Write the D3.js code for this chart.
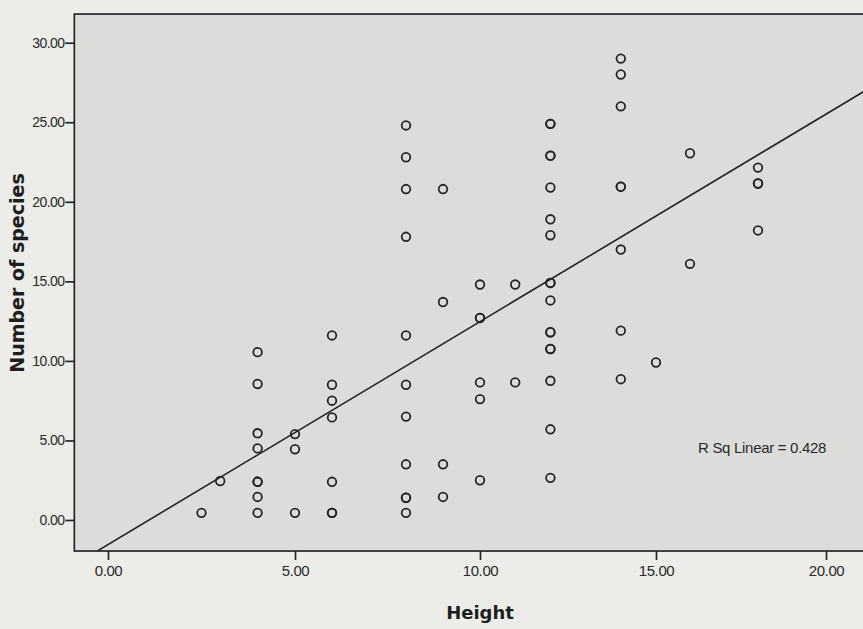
<!DOCTYPE html>
<html>
<head>
<meta charset="utf-8">
<script src="https://cdn.jsdelivr.net/npm/d3@7"></script>
<style>
  html, body { margin: 0; padding: 0; background: #ecece9; }
  svg { display: block; }
</style>
</head>
<body>
<svg id="chart" width="863" height="629"></svg>
<script>
// Tree height groups and the number of species recorded at each height
const heights = [2.5, 3, 4, 5, 6, 8, 9, 10, 11, 12, 14, 15, 16, 18];
const speciesAtHeight = [
  [0.45],
  [2.45],
  [10.55, 8.55, 5.45, 4.5, 2.4, 2.4, 1.45, 0.45],
  [5.4, 4.45, 0.45],
  [11.6, 8.5, 7.5, 6.45, 2.4, 0.45, 0.45],
  [24.8, 22.8, 20.8, 17.8, 11.6, 8.5, 6.5, 3.5, 1.4, 1.4, 0.45],
  [20.8, 13.7, 3.5, 1.45],
  [14.8, 12.7, 12.7, 8.65, 7.6, 2.5],
  [14.8, 8.65],
  [24.9, 24.9, 22.9, 22.9, 20.9, 18.9, 17.9, 14.9, 14.9, 13.8, 11.8, 11.8, 10.75, 10.75, 8.75, 5.7, 2.65],
  [29.0, 28.0, 26.0, 20.95, 20.95, 17.0, 11.9, 8.85],
  [9.9],
  [23.05, 16.1],
  [22.15, 21.15, 21.15, 18.2]
];

// Axis ticks
const xTicks = [0, 5, 10, 15, 20];
const yTicks = [0, 5, 10, 15, 20, 25, 30];

// Linear fit line
const fitIntercept = -1.6;
const fitSlope = 1.35;
const rSquared = 0.428;

// Visible data extent of the plot frame
const xMin = -0.9, xMax = 21.6;
const yMin = -1.95, yMax = 31.8;

const points = heights.flatMap((h, i) => speciesAtHeight[i].map(s => ({ h, s })));

const svg = d3.select("#chart");

const x = d3.scaleLinear()
  .domain(xTicks)
  .range([108, 295, 480, 656, 826]);

const y = d3.scaleLinear()
  .domain([0, 30])
  .range([520, 42.7]);

const frameLeft = x(xMin), frameRight = x(xMax);
const frameTop = y(yMax), frameBottom = y(yMin);

// plot background
svg.append("rect")
  .attr("x", frameLeft).attr("y", frameTop)
  .attr("width", frameRight - frameLeft).attr("height", frameBottom - frameTop)
  .attr("fill", "#dcdddb");

svg.append("clipPath").attr("id", "plotClip")
  .append("rect")
  .attr("x", frameLeft).attr("y", frameTop)
  .attr("width", frameRight - frameLeft).attr("height", frameBottom - frameTop);

// fit line
svg.append("line")
  .attr("clip-path", "url(#plotClip)")
  .attr("x1", x(xMin)).attr("y1", y(fitIntercept + fitSlope * xMin))
  .attr("x2", x(xMax)).attr("y2", y(fitIntercept + fitSlope * xMax))
  .attr("stroke", "#222")
  .attr("stroke-width", 1.6);

// points
svg.append("g")
  .selectAll("circle")
  .data(points)
  .join("circle")
  .attr("cx", d => x(d.h))
  .attr("cy", d => y(d.s))
  .attr("r", 4.3)
  .attr("fill", "none")
  .attr("stroke", "#262626")
  .attr("stroke-width", 1.8);

// frame
svg.append("rect")
  .attr("x", frameLeft).attr("y", frameTop)
  .attr("width", frameRight - frameLeft).attr("height", frameBottom - frameTop)
  .attr("fill", "none")
  .attr("stroke", "#262626")
  .attr("stroke-width", 1.7);

// axes
const fmt = d3.format(".2f");

const yAxis = svg.append("g")
  .attr("transform", `translate(${frameLeft},0)`)
  .call(d3.axisLeft(y).tickValues(yTicks).tickFormat(fmt).tickSize(9).tickPadding(1));
yAxis.select(".domain").remove();
yAxis.selectAll("line").attr("stroke", "#262626").attr("stroke-width", 1.7);
yAxis.selectAll("text")
  .attr("fill", "#2a2a2a")
  .style("font-family", "'Liberation Sans', Arial, sans-serif")
  .style("font-size", "14px")
  .style("letter-spacing", "-0.6px");

const xAxis = svg.append("g")
  .attr("transform", `translate(0,${frameBottom})`)
  .call(d3.axisBottom(x).tickValues(xTicks).tickFormat(fmt).tickSize(9).tickPadding(5));
xAxis.select(".domain").remove();
xAxis.selectAll("line").attr("stroke", "#262626").attr("stroke-width", 1.7);
xAxis.selectAll("text")
  .attr("fill", "#2a2a2a")
  .style("font-family", "'Liberation Sans', Arial, sans-serif")
  .style("font-size", "15px")
  .style("letter-spacing", "-0.4px");

// axis titles
svg.append("text")
  .attr("x", 480).attr("y", 619)
  .attr("text-anchor", "middle")
  .attr("fill", "#1e1e1e")
  .style("font-family", "'DejaVu Sans', Verdana, sans-serif")
  .style("font-weight", "bold")
  .style("font-size", "18px")
  .text("Height");

svg.append("text")
  .attr("transform", "translate(24,273) rotate(-90)")
  .attr("text-anchor", "middle")
  .attr("fill", "#1e1e1e")
  .style("font-family", "'DejaVu Sans', Verdana, sans-serif")
  .style("font-weight", "bold")
  .style("font-size", "19px")
  .text("Number of species");

// fit statistic
svg.append("text")
  .attr("x", 698).attr("y", 453)
  .attr("fill", "#2a2a2a")
  .style("font-family", "'Liberation Sans', Arial, sans-serif")
  .style("font-size", "15px")
  .style("letter-spacing", "-0.3px")
  .text(`R Sq Linear = ${rSquared}`);
</script>
</body>
</html>
